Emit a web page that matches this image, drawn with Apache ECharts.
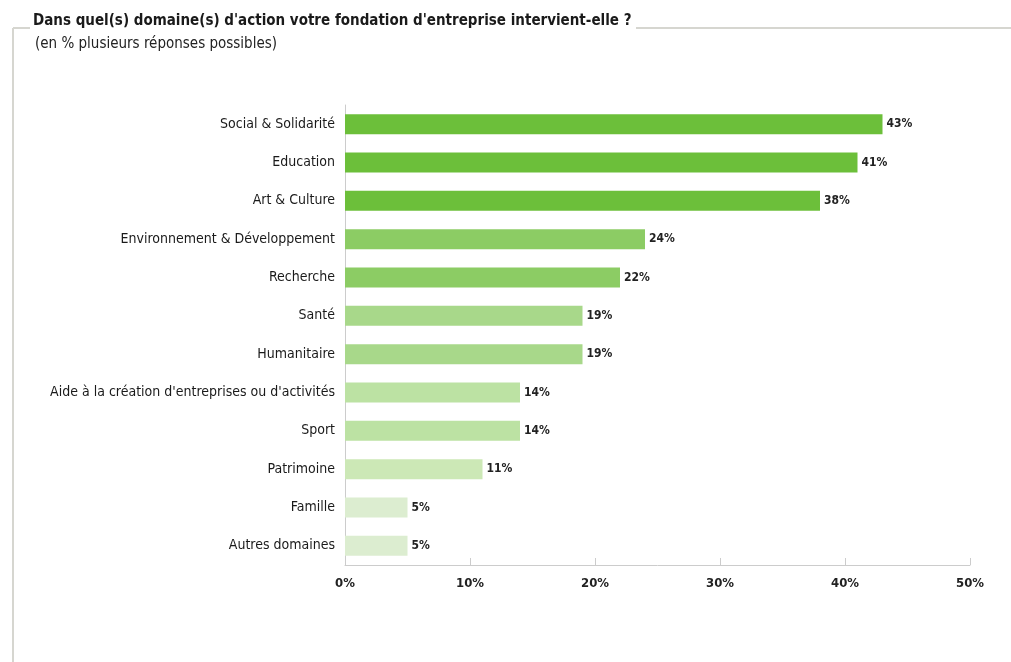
<!DOCTYPE html>
<html>
<head>
<meta charset="utf-8">
<script src="https://cdn.jsdelivr.net/npm/echarts@6/dist/echarts.min.js"></script>
<style>
html,body{margin:0;padding:0;background:#fff;}
#chart{width:1011px;height:662px;}
</style>
</head>
<body>
<div id="chart"></div>
<script>
const categories = [
  "Social & Solidarité",
  "Education",
  "Art & Culture",
  "Environnement & Développement",
  "Recherche",
  "Santé",
  "Humanitaire",
  "Aide à la création d'entreprises ou d'activités",
  "Sport",
  "Patrimoine",
  "Famille",
  "Autres domaines"
];
const values = [43, 41, 38, 24, 22, 19, 19, 14, 14, 11, 5, 5];
const xTicks = [0, 10, 20, 30, 40, 50];
const barColors = ["#6cbf3a", "#6cbf3a", "#6cbf3a", "#8ccc64", "#8ccc64", "#a8d88a", "#a8d88a", "#bce2a3", "#bce2a3", "#cce8b6", "#dcedd0", "#dcedd0"];

const FONT = '"Liberation Sans Narrow", "DejaVu Sans Condensed", "Roboto Condensed", sans-serif';

const chart = echarts.init(document.getElementById('chart'));
chart.setOption({
  backgroundColor: '#ffffff',
  animation: false,
  title: [
    {
      text: "Dans quel(s) domaine(s) d'action votre fondation d'entreprise intervient-elle ?",
      left: 28, top: 9,
      textStyle: { fontFamily: FONT, fontSize: 15, fontWeight: 'bold', color: '#1a1a1a' }
    },
    {
      text: "(en % plusieurs réponses possibles)",
      left: 30, top: 32,
      textStyle: { fontFamily: FONT, fontSize: 15, fontWeight: 'normal', color: '#222' }
    }
  ],
  graphic: [
    { type: 'line', shape: { x1: 13, y1: 28, x2: 13, y2: 662 }, style: { stroke: '#d6d6d0', lineWidth: 2 } },
    { type: 'line', shape: { x1: 13, y1: 28, x2: 30, y2: 28 }, style: { stroke: '#d6d6d0', lineWidth: 2 } },
    { type: 'line', shape: { x1: 636, y1: 28, x2: 1011, y2: 28 }, style: { stroke: '#d6d6d0', lineWidth: 2 } }
  ],
  grid: { left: 345, right: 41, top: 105, bottom: 97, containLabel: false },
  xAxis: {
    type: 'value', min: xTicks[0], max: xTicks[xTicks.length - 1], interval: xTicks[1] - xTicks[0],
    axisLine: { show: true, lineStyle: { color: '#cccccc', width: 1 } },
    axisTick: { show: true, inside: true, length: 7, lineStyle: { color: '#cccccc' } },
    splitLine: { show: false },
    axisLabel: { formatter: '{value}%', fontFamily: FONT, fontSize: 13, fontWeight: 'bold', color: '#222', margin: 12 }
  },
  yAxis: {
    type: 'category', data: categories, inverse: true,
    axisLine: { show: true, lineStyle: { color: '#cccccc', width: 1 } },
    axisTick: { show: false },
    axisLabel: { fontFamily: FONT, fontSize: 14, color: '#1a1a1a', margin: 10 }
  },
  series: [{
    type: 'bar',
    data: values.map((v, i) => ({ value: v, itemStyle: { color: barColors[i] } })),
    barWidth: 20,
    label: {
      show: true, position: 'right', distance: 4,
      formatter: '{c}%', fontFamily: FONT, fontSize: 12, fontWeight: 'bold', color: '#222'
    }
  }]
});
</script>
</body>
</html>
